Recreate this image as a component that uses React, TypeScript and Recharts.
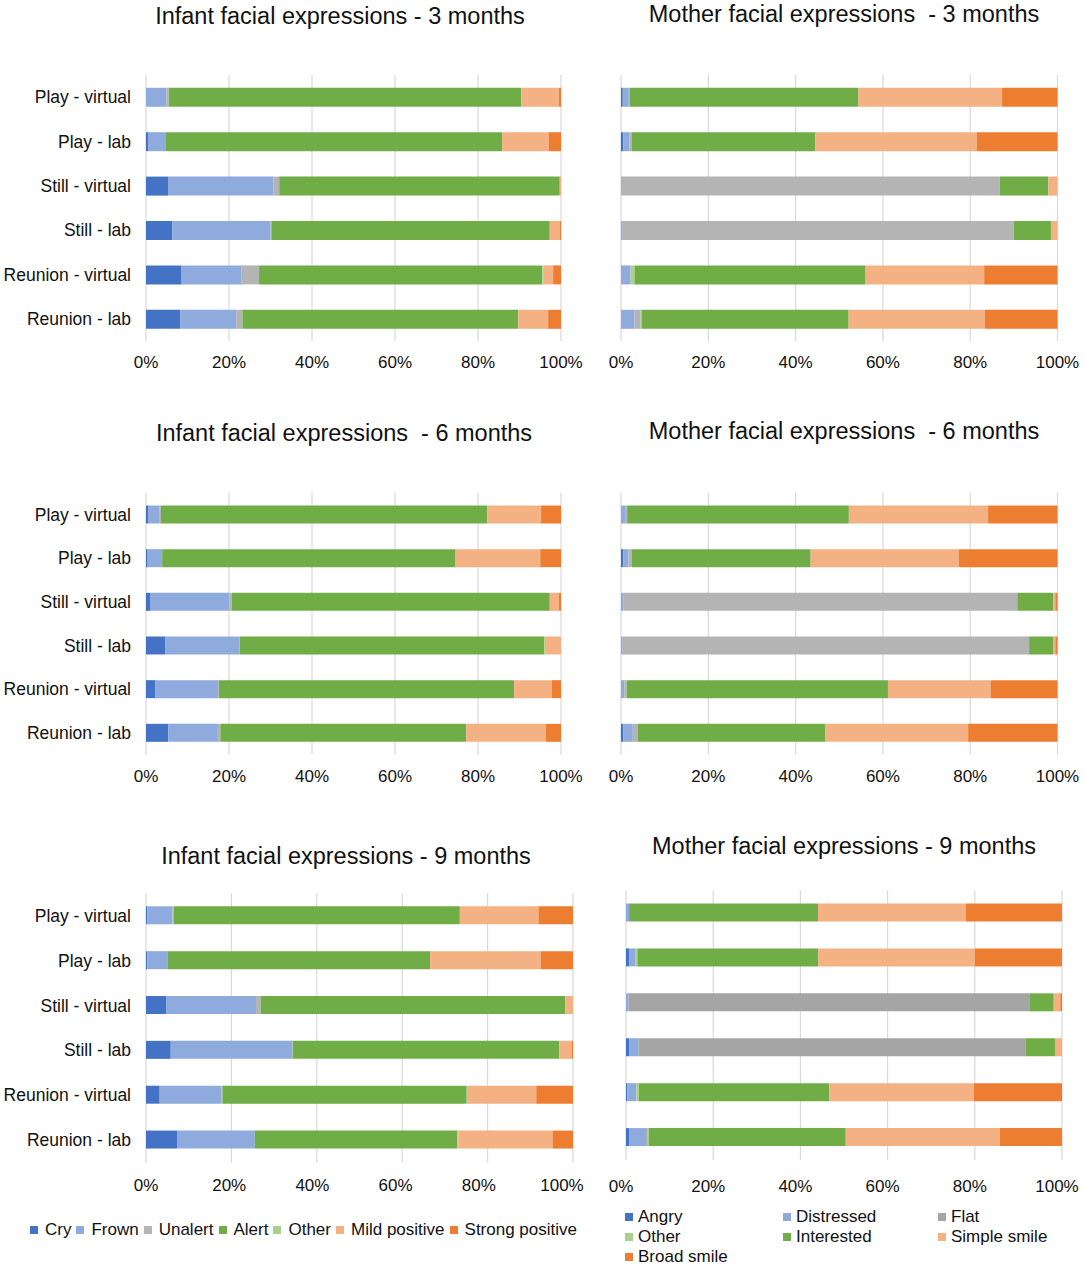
import React from 'react';
import { BarChart, Bar, XAxis, YAxis, CartesianGrid } from 'recharts';

const CATEGORIES = ['Play - virtual', 'Play - lab', 'Still - virtual', 'Still - lab', 'Reunion - virtual', 'Reunion - lab'];
const INFANT_SERIES = ['Cry', 'Frown', 'Unalert', 'Alert', 'Other', 'Mild positive', 'Strong positive'];
const MOTHER_SERIES = ['Angry', 'Distressed', 'Flat', 'Other', 'Interested', 'Simple smile', 'Broad smile'];
const X_TICKS = [0, 0.2, 0.4, 0.6, 0.8, 1];

// rows follow CATEGORIES, columns follow the series order (percent)
const INFANT_3M = [
  [0, 4.9, 0.6, 84.9, 0, 9.1, 0.5],
  [0.5, 4.3, 0, 81.0, 0, 11.2, 3.0],
  [5.3, 25.4, 1.4, 67.6, 0, 0.3, 0],
  [6.3, 23.7, 0.2, 67.1, 0, 2.4, 0.3],
  [8.6, 14.5, 4.2, 68.4, 0.2, 2.4, 1.9],
  [8.3, 13.4, 1.5, 66.4, 0, 7.2, 3.1],
];
const MOTHER_3M = [
  [0.4, 1.4, 0.2, 0, 52.4, 32.9, 12.7],
  [0.5, 1.4, 0.5, 0, 42.1, 36.9, 18.5],
  [0, 0, 86.8, 0, 11.1, 2.1, 0],
  [0, 0.4, 89.5, 0, 8.5, 1.5, 0],
  [0, 2.2, 0, 0.9, 52.8, 27.3, 16.8],
  [0, 3.1, 1.4, 0.2, 47.4, 31.2, 16.6],
];
const INFANT_6M = [
  [0.5, 2.8, 0.3, 78.6, 0, 13.0, 4.8],
  [0.4, 3.5, 0, 70.7, 0, 20.4, 5.0],
  [1.1, 19.0, 0.6, 76.6, 0, 2.2, 0.5],
  [4.7, 17.7, 0.2, 73.4, 0.4, 3.6, 0],
  [2.3, 15.1, 0.2, 71.2, 0, 9.1, 2.2],
  [5.4, 11.9, 0.6, 59.2, 0, 19.1, 3.7],
];
const MOTHER_6M = [
  [0, 1.1, 0.3, 0, 50.8, 31.9, 15.9],
  [0.5, 1.2, 0.8, 0, 40.9, 33.9, 22.6],
  [0, 0.5, 90.2, 0, 8.2, 0.5, 0.5],
  [0, 0.4, 93.0, 0, 5.6, 0.4, 0.5],
  [0, 0.8, 0.5, 0, 59.8, 23.5, 15.3],
  [0.5, 2.2, 1.1, 0, 43.1, 32.7, 20.5],
];
const INFANT_9M = [
  [0.3, 5.9, 0.3, 67.0, 0, 18.4, 8.1],
  [0.3, 4.7, 0, 61.6, 0, 25.9, 7.6],
  [4.7, 21.1, 1.1, 71.4, 0, 1.8, 0],
  [5.8, 28.5, 0.1, 62.5, 0, 2.9, 0.3],
  [3.2, 14.5, 0.2, 57.2, 0.3, 16.0, 8.6],
  [7.4, 18.1, 0, 47.5, 0.2, 22.1, 4.8],
];
const MOTHER_9M = [
  [0, 0.7, 0, 0, 43.3, 33.9, 22.0],
  [0.7, 1.5, 0, 0.4, 41.5, 35.9, 20.0],
  [0, 0.6, 91.9, 0, 5.6, 1.5, 0.4],
  [0.7, 2.2, 88.7, 0, 6.8, 1.6, 0],
  [0.3, 2.1, 0, 0.5, 43.7, 33.2, 20.2],
  [0.7, 3.9, 0.2, 0.4, 45.2, 35.3, 14.3],
];

const INFANT_COLORS = ['#4472C4', '#8FAADC', '#B4B4B4', '#70AD47', '#A9D18E', '#F4B183', '#ED7D31'];
const MOTHER_COLORS = ['#4472C4', '#8FAADC', '#B4B4B4', '#A9D18E', '#70AD47', '#F4B183', '#ED7D31'];
const MOTHER_COLORS_9M = ['#4472C4', '#8FAADC', '#A5A5A5', '#A9D18E', '#70AD47', '#F4B183', '#ED7D31'];

const TEXT = '#111111';
const FONT = '"Liberation Sans", Arial, Helvetica, sans-serif';
const TICK_FONT = 17;
const CAT_FONT = 17.5;

type Box = { left: number; top: number; width: number; height: number };
type Plot = { x0: number; x1: number; y0: number; y1: number };

function makeTick(shiftAt0: number, shiftAt1: number) {
  return (p: any) => {
    const v = p.payload ? p.payload.value : 0;
    const shift = shiftAt0 + (shiftAt1 - shiftAt0) * v;
    return (
      <text
        x={p.x + shift}
        y={p.y}
        dy="0.71em"
        textAnchor="middle"
        fill={TEXT}
        fontSize={TICK_FONT}
      >
        {`${Math.round(v * 100)}%`}
      </text>
    );
  };
}

function Panel(props: {
  rows: number[][];
  series: string[];
  colors: string[];
  box: Box;
  plot: Plot;
  showCategories: boolean;
  barSize: number;
  tickMargin: number;
  labelShift?: [number, number];
}) {
  const { rows, series, colors, box, plot, showCategories, barSize, tickMargin } = props;
  const labelShift = props.labelShift || [0, 0];
  const data = CATEGORIES.map((name, i) => {
    const o: any = { name };
    series.forEach((s, j) => {
      o[s] = rows[i][j];
    });
    return o;
  });
  const xAxisHeight = 40;
  const yAxisWidth = showCategories ? plot.x0 - box.left : 0;
  const margin = {
    top: plot.y0 - box.top,
    right: box.left + box.width - plot.x1,
    bottom: box.top + box.height - plot.y1 - xAxisHeight,
    left: showCategories ? 0 : plot.x0 - box.left,
  };
  return (
    <div style={{ position: 'absolute', left: box.left, top: box.top }}>
      <BarChart
        width={box.width}
        height={box.height}
        data={data}
        layout="vertical"
        stackOffset="expand"
        margin={margin}
      >
        <CartesianGrid horizontal={false} stroke="#D9D9D9" strokeWidth={1.2} />
        <XAxis
          type="number"
          domain={[0, 1]}
          ticks={X_TICKS}
          interval={0}
          axisLine={false}
          tickLine={false}
          tickSize={0}
          tickMargin={tickMargin}
          height={xAxisHeight}
          tick={makeTick(labelShift[0], labelShift[1])}
        />
        <YAxis
          type="category"
          dataKey="name"
          hide={!showCategories}
          width={yAxisWidth}
          interval={0}
          axisLine={false}
          tickLine={false}
          tickSize={0}
          tickMargin={15}
          tick={{ fill: TEXT, fontSize: CAT_FONT }}
        />
        {series.map((s, j) => (
          <Bar key={s} dataKey={s} stackId="a" fill={colors[j]} barSize={barSize} isAnimationActive={false} />
        ))}
      </BarChart>
    </div>
  );
}

function Title({ text, cx, cy }: { text: string; cx: number; cy: number }) {
  return (
    <div
      style={{
        position: 'absolute',
        left: cx - 300,
        width: 600,
        top: cy - 12,
        fontSize: 23.5,
        lineHeight: '24px',
        textAlign: 'center',
        whiteSpace: 'pre',
        color: TEXT,
      }}
    >
      {text}
    </div>
  );
}

function InfantLegend() {
  return (
    <div
      style={{
        position: 'absolute',
        left: 30,
        top: 1220,
        display: 'flex',
        alignItems: 'center',
        fontSize: 17,
        lineHeight: '20px',
        color: TEXT,
        whiteSpace: 'pre',
      }}
    >
      {INFANT_SERIES.map((s, j) => (
        <div key={s} style={{ display: 'flex', alignItems: 'center', marginRight: 5 }}>
          <span style={{ width: 8, height: 8, background: INFANT_COLORS[j], display: 'inline-block', marginRight: 7 }} />
          <span>{s}</span>
        </div>
      ))}
    </div>
  );
}

const MOTHER_LEGEND_COLS = [625, 783, 938];

function MotherLegend() {
  return (
    <>
      {MOTHER_SERIES.map((s, j) => (
        <div
          key={s}
          style={{
            position: 'absolute',
            left: MOTHER_LEGEND_COLS[j % 3],
            top: 1207 + Math.floor(j / 3) * 20,
            display: 'flex',
            alignItems: 'center',
            fontSize: 17,
            lineHeight: '20px',
            color: TEXT,
            whiteSpace: 'pre',
          }}
        >
          <span style={{ width: 8, height: 8, background: MOTHER_COLORS_9M[j], display: 'inline-block', marginRight: 5 }} />
          <span>{s}</span>
        </div>
      ))}
    </>
  );
}

export default function App() {
  return (
    <div
      style={{
        position: 'absolute',
        left: 0,
        top: 0,
        width: 1084,
        height: 1267,
        background: '#ffffff',
        fontFamily: FONT,
        overflow: 'hidden',
      }}
    >
      <Title text="Infant facial expressions - 3 months" cx={340} cy={16} />
      <Title text="Mother facial expressions  - 3 months" cx={844} cy={14} />
      <Title text="Infant facial expressions  - 6 months" cx={344} cy={433} />
      <Title text="Mother facial expressions  - 6 months" cx={844} cy={431} />
      <Title text="Infant facial expressions - 9 months" cx={346} cy={856} />
      <Title text="Mother facial expressions - 9 months" cx={844} cy={846} />

      <Panel
        rows={INFANT_3M}
        series={INFANT_SERIES}
        colors={INFANT_COLORS}
        box={{ left: 0, top: 40, width: 598, height: 345 }}
        plot={{ x0: 146, x1: 561, y0: 74.8, y1: 341.2 }}
        showCategories
        barSize={19}
        tickMargin={15}
      />
      <Panel
        rows={MOTHER_3M}
        series={MOTHER_SERIES}
        colors={MOTHER_COLORS}
        box={{ left: 600, top: 40, width: 484, height: 345 }}
        plot={{ x0: 621, x1: 1057.5, y0: 74.8, y1: 341.2 }}
        showCategories={false}
        barSize={19}
        tickMargin={15}
      />
      <Panel
        rows={INFANT_6M}
        series={INFANT_SERIES}
        colors={INFANT_COLORS}
        box={{ left: 0, top: 455, width: 598, height: 345 }}
        plot={{ x0: 146, x1: 561, y0: 492.5, y1: 754.5 }}
        showCategories
        barSize={18}
        tickMargin={15}
      />
      <Panel
        rows={MOTHER_6M}
        series={MOTHER_SERIES}
        colors={MOTHER_COLORS}
        box={{ left: 600, top: 455, width: 484, height: 345 }}
        plot={{ x0: 621, x1: 1057.5, y0: 492.5, y1: 754.5 }}
        showCategories={false}
        barSize={18}
        tickMargin={15}
      />
      <Panel
        rows={INFANT_9M}
        series={INFANT_SERIES}
        colors={INFANT_COLORS}
        box={{ left: 0, top: 875, width: 598, height: 330 }}
        plot={{ x0: 146, x1: 573, y0: 893.3, y1: 1162.4 }}
        showCategories
        barSize={18}
        tickMargin={17}
        labelShift={[0, -11]}
      />
      <Panel
        rows={MOTHER_9M}
        series={MOTHER_SERIES}
        colors={MOTHER_COLORS_9M}
        box={{ left: 600, top: 870, width: 484, height: 335 }}
        plot={{ x0: 626, x1: 1062, y0: 890.5, y1: 1160 }}
        showCategories={false}
        barSize={18}
        tickMargin={20}
        labelShift={[-5, -5]}
      />

      <InfantLegend />
      <MotherLegend />
    </div>
  );
}
